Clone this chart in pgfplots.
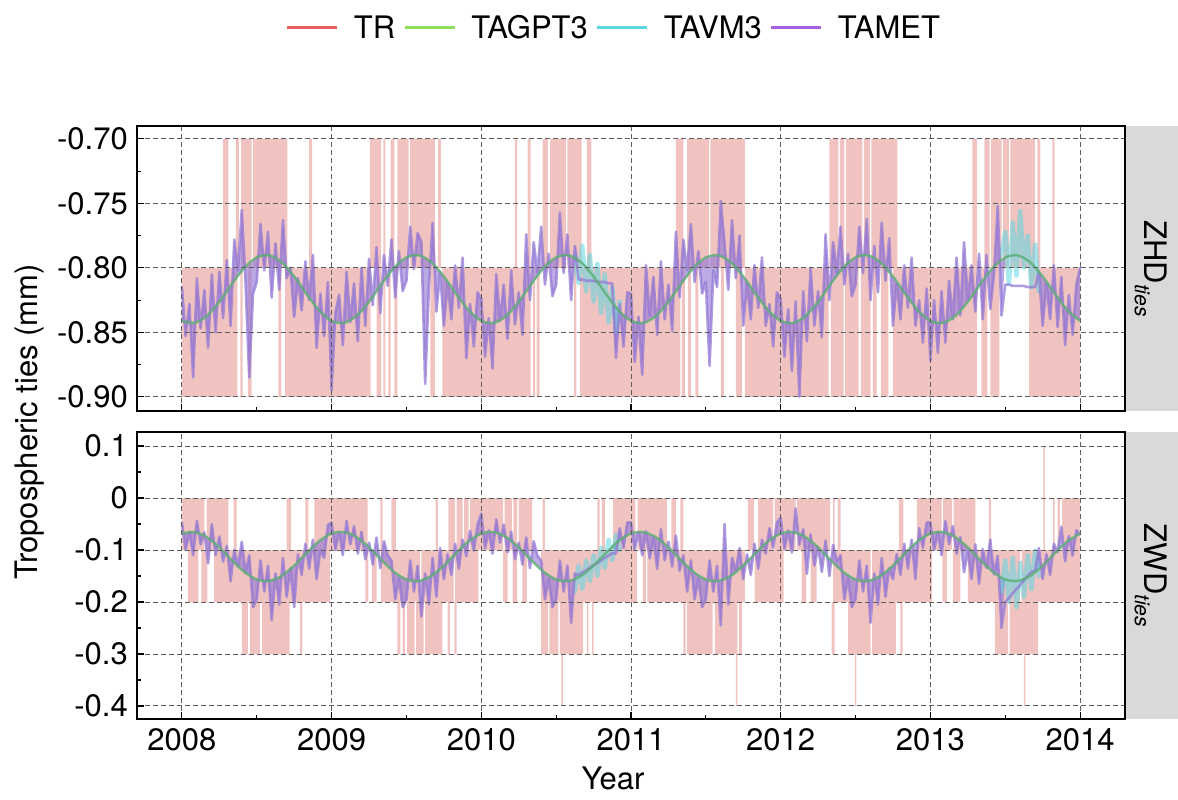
\documentclass[border=0pt]{standalone}
\usepackage{fontspec}
\setmainfont{TeX Gyre Heros}
\usepackage{pgfplots}
\usepackage{pgfplotstable}
\pgfplotsset{compat=1.18}

\definecolor{trred}{RGB}{230,97,92}
\definecolor{trfill}{RGB}{241,195,192}
\definecolor{gptgreen}{RGB}{140,222,90}
\definecolor{gptline}{RGB}{90,175,115}
\definecolor{vmcyan}{RGB}{95,215,225}
\definecolor{metpurple}{RGB}{165,95,225}
\definecolor{metline}{RGB}{145,118,212}
\definecolor{stripgray}{RGB}{217,217,217}
\definecolor{gridgray}{RGB}{95,95,95}

\newcommand{\bigfont}{\fontsize{31}{36}\selectfont}

% ZHD TAMET (2008.000 .. 2014.000, step 1/40 yr)
\pgfplotstableread[row sep=\\]{
y\\
-0.815\\-0.853\\-0.828\\-0.885\\-0.808\\-0.847\\-0.817\\-0.862\\-0.805\\-0.850\\
-0.803\\-0.839\\-0.794\\-0.845\\-0.778\\-0.802\\-0.755\\-0.811\\-0.885\\-0.820\\
-0.811\\-0.766\\-0.802\\-0.772\\-0.823\\-0.781\\-0.817\\-0.763\\-0.808\\-0.800\\
-0.838\\-0.808\\-0.833\\-0.795\\-0.825\\-0.790\\-0.862\\-0.820\\-0.853\\-0.811\\
-0.895\\-0.835\\-0.821\\-0.860\\-0.803\\-0.842\\-0.812\\-0.857\\-0.800\\-0.845\\
-0.793\\-0.829\\-0.784\\-0.835\\-0.790\\-0.814\\-0.778\\-0.823\\-0.787\\-0.818\\
-0.810\\-0.768\\-0.801\\-0.773\\-0.780\\-0.890\\-0.815\\-0.765\\-0.834\\-0.803\\
-0.845\\-0.812\\-0.840\\-0.798\\-0.831\\-0.792\\-0.870\\-0.828\\-0.861\\-0.819\\
-0.824\\-0.869\\-0.839\\-0.878\\-0.805\\-0.841\\-0.813\\-0.855\\-0.802\\-0.844\\
-0.819\\-0.852\\-0.774\\-0.825\\-0.780\\-0.804\\-0.768\\-0.813\\-0.789\\-0.822\\
-0.813\\-0.757\\-0.804\\-0.774\\-0.825\\-0.783\\-0.809\\-0.809\\-0.810\\-0.810\\
-0.810\\-0.811\\-0.811\\-0.811\\-0.812\\-0.812\\-0.870\\-0.828\\-0.861\\-0.819\\
-0.820\\-0.873\\-0.838\\-0.883\\-0.798\\-0.837\\-0.807\\-0.852\\-0.795\\-0.840\\
-0.813\\-0.849\\-0.772\\-0.823\\-0.778\\-0.802\\-0.766\\-0.811\\-0.787\\-0.820\\
-0.811\\-0.876\\-0.802\\-0.815\\-0.748\\-0.781\\-0.817\\-0.763\\-0.808\\-0.775\\
-0.845\\-0.812\\-0.840\\-0.798\\-0.831\\-0.792\\-0.845\\-0.828\\-0.861\\-0.819\\
-0.824\\-0.869\\-0.832\\-0.880\\-0.826\\-0.900\\-0.818\\-0.857\\-0.800\\-0.845\\
-0.818\\-0.854\\-0.774\\-0.825\\-0.780\\-0.804\\-0.768\\-0.813\\-0.789\\-0.822\\
-0.813\\-0.768\\-0.804\\-0.762\\-0.825\\-0.783\\-0.819\\-0.765\\-0.810\\-0.777\\
-0.845\\-0.812\\-0.840\\-0.798\\-0.831\\-0.792\\-0.845\\-0.825\\-0.858\\-0.816\\
-0.872\\-0.825\\-0.866\\-0.818\\-0.858\\-0.810\\-0.840\\-0.792\\-0.837\\-0.780\\
-0.825\\-0.798\\-0.834\\-0.789\\-0.840\\-0.790\\-0.832\\-0.805\\-0.752\\-0.837\\
-0.813\\-0.813\\-0.814\\-0.814\\-0.814\\-0.814\\-0.815\\-0.815\\-0.815\\-0.803\\
-0.845\\-0.812\\-0.840\\-0.798\\-0.846\\-0.807\\-0.860\\-0.821\\-0.852\\-0.813\\
-0.800\\
}\zhdmet

% ZHD TAMET spread outline: TAMET (TAGPT3 where TAMET is missing), then TAGPT3 back from 2014 to 2008
\pgfplotstableread[row sep=\\]{
y\\
-0.815\\-0.853\\-0.828\\-0.885\\-0.808\\-0.847\\-0.817\\-0.862\\-0.805\\-0.850\\
-0.803\\-0.839\\-0.794\\-0.845\\-0.778\\-0.802\\-0.755\\-0.811\\-0.885\\-0.820\\
-0.811\\-0.766\\-0.802\\-0.772\\-0.823\\-0.781\\-0.817\\-0.763\\-0.808\\-0.800\\
-0.838\\-0.808\\-0.833\\-0.795\\-0.825\\-0.790\\-0.862\\-0.820\\-0.853\\-0.811\\
-0.895\\-0.835\\-0.821\\-0.860\\-0.803\\-0.842\\-0.812\\-0.857\\-0.800\\-0.845\\
-0.793\\-0.829\\-0.784\\-0.835\\-0.790\\-0.814\\-0.778\\-0.823\\-0.787\\-0.818\\
-0.810\\-0.768\\-0.801\\-0.773\\-0.780\\-0.890\\-0.815\\-0.765\\-0.834\\-0.803\\
-0.845\\-0.812\\-0.840\\-0.798\\-0.831\\-0.792\\-0.870\\-0.828\\-0.861\\-0.819\\
-0.824\\-0.869\\-0.839\\-0.878\\-0.805\\-0.841\\-0.813\\-0.855\\-0.802\\-0.844\\
-0.819\\-0.852\\-0.774\\-0.825\\-0.780\\-0.804\\-0.768\\-0.813\\-0.789\\-0.822\\
-0.813\\-0.757\\-0.804\\-0.774\\-0.825\\-0.783\\-0.7941\\-0.7966\\-0.7996\\-0.8030\\
-0.8067\\-0.8107\\-0.8148\\-0.8190\\-0.8231\\-0.8270\\-0.870\\-0.828\\-0.861\\-0.819\\
-0.820\\-0.873\\-0.838\\-0.883\\-0.798\\-0.837\\-0.807\\-0.852\\-0.795\\-0.840\\
-0.813\\-0.849\\-0.772\\-0.823\\-0.778\\-0.802\\-0.766\\-0.811\\-0.787\\-0.820\\
-0.811\\-0.876\\-0.802\\-0.815\\-0.748\\-0.781\\-0.817\\-0.763\\-0.808\\-0.775\\
-0.845\\-0.812\\-0.840\\-0.798\\-0.831\\-0.792\\-0.845\\-0.828\\-0.861\\-0.819\\
-0.824\\-0.869\\-0.832\\-0.880\\-0.826\\-0.900\\-0.818\\-0.857\\-0.800\\-0.845\\
-0.818\\-0.854\\-0.774\\-0.825\\-0.780\\-0.804\\-0.768\\-0.813\\-0.789\\-0.822\\
-0.813\\-0.768\\-0.804\\-0.762\\-0.825\\-0.783\\-0.819\\-0.765\\-0.810\\-0.777\\
-0.845\\-0.812\\-0.840\\-0.798\\-0.831\\-0.792\\-0.845\\-0.825\\-0.858\\-0.816\\
-0.872\\-0.825\\-0.866\\-0.818\\-0.858\\-0.810\\-0.840\\-0.792\\-0.837\\-0.780\\
-0.825\\-0.798\\-0.834\\-0.789\\-0.840\\-0.790\\-0.832\\-0.805\\-0.752\\-0.837\\
-0.7919\\-0.7906\\-0.7901\\-0.7901\\-0.7908\\-0.7922\\-0.7941\\-0.7966\\-0.7996\\-0.803\\
-0.845\\-0.812\\-0.840\\-0.798\\-0.846\\-0.807\\-0.860\\-0.821\\-0.852\\-0.813\\
-0.800\\
-0.8411\\-0.8330\\-0.8204\\-0.8067\\-0.7957\\-0.7903\\-0.7919\\-0.8000\\-0.8126\\-0.8263\\-0.8373\\-0.8427\\
-0.8411\\-0.8330\\-0.8204\\-0.8067\\-0.7957\\-0.7903\\-0.7919\\-0.8000\\-0.8126\\-0.8263\\-0.8373\\-0.8427\\
-0.8411\\-0.8330\\-0.8204\\-0.8067\\-0.7957\\-0.7903\\-0.7919\\-0.8000\\-0.8126\\-0.8263\\-0.8373\\-0.8427\\
-0.8411\\-0.8330\\-0.8204\\-0.8067\\-0.7957\\-0.7903\\-0.7919\\-0.8000\\-0.8126\\-0.8263\\-0.8373\\-0.8427\\
-0.8411\\-0.8330\\-0.8204\\-0.8067\\-0.7957\\-0.7903\\-0.7919\\-0.8000\\-0.8126\\-0.8263\\-0.8373\\-0.8427\\
-0.8411\\-0.8330\\-0.8204\\-0.8067\\-0.7957\\-0.7903\\-0.7919\\-0.8000\\-0.8126\\-0.8263\\-0.8373\\-0.8427\\
-0.8411\\
}\zhdspread

% ZWD TAMET
\pgfplotstableread[row sep=\\]{
y\\
-0.047\\-0.100\\-0.065\\-0.110\\-0.044\\-0.089\\-0.066\\-0.126\\-0.050\\-0.110\\
-0.074\\-0.122\\-0.092\\-0.160\\-0.100\\-0.132\\-0.084\\-0.144\\-0.110\\-0.210\\
-0.195\\-0.120\\-0.180\\-0.130\\-0.235\\-0.145\\-0.205\\-0.115\\-0.190\\-0.135\\
-0.210\\-0.108\\-0.148\\-0.088\\-0.136\\-0.080\\-0.156\\-0.100\\-0.115\\-0.052\\
-0.047\\-0.100\\-0.065\\-0.110\\-0.044\\-0.089\\-0.054\\-0.107\\-0.065\\-0.118\\
-0.086\\-0.128\\-0.076\\-0.135\\-0.083\\-0.111\\-0.120\\-0.195\\-0.155\\-0.210\\
-0.195\\-0.120\\-0.180\\-0.130\\-0.228\\-0.145\\-0.205\\-0.115\\-0.190\\-0.096\\
-0.156\\-0.108\\-0.148\\-0.088\\-0.136\\-0.080\\-0.112\\-0.063\\-0.101\\-0.052\\
-0.030\\-0.097\\-0.062\\-0.107\\-0.041\\-0.086\\-0.051\\-0.104\\-0.065\\-0.118\\
-0.086\\-0.128\\-0.076\\-0.135\\-0.083\\-0.111\\-0.120\\-0.195\\-0.155\\-0.210\\
-0.195\\-0.120\\-0.180\\-0.130\\-0.240\\-0.145\\-0.148\\-0.143\\-0.139\\-0.134\\
-0.129\\-0.125\\-0.120\\-0.115\\-0.111\\-0.106\\-0.107\\-0.058\\-0.096\\-0.047\\
-0.047\\-0.100\\-0.065\\-0.110\\-0.064\\-0.116\\-0.076\\-0.136\\-0.060\\-0.120\\
-0.084\\-0.132\\-0.072\\-0.140\\-0.110\\-0.180\\-0.120\\-0.195\\-0.155\\-0.210\\
-0.195\\-0.120\\-0.180\\-0.130\\-0.245\\-0.050\\-0.205\\-0.115\\-0.140\\-0.096\\
-0.156\\-0.108\\-0.148\\-0.088\\-0.136\\-0.080\\-0.107\\-0.058\\-0.096\\-0.047\\
-0.038\\-0.098\\-0.062\\-0.105\\-0.020\\-0.090\\-0.060\\-0.146\\-0.070\\-0.130\\
-0.094\\-0.142\\-0.082\\-0.150\\-0.090\\-0.122\\-0.110\\-0.195\\-0.155\\-0.210\\
-0.195\\-0.120\\-0.180\\-0.130\\-0.240\\-0.145\\-0.205\\-0.115\\-0.190\\-0.135\\
-0.156\\-0.108\\-0.148\\-0.088\\-0.136\\-0.080\\-0.156\\-0.058\\-0.096\\-0.047\\
-0.047\\-0.100\\-0.065\\-0.110\\-0.044\\-0.089\\-0.054\\-0.107\\-0.075\\-0.143\\
-0.102\\-0.156\\-0.089\\-0.165\\-0.098\\-0.134\\-0.080\\-0.147\\-0.111\\-0.250\\
-0.200\\-0.192\\-0.183\\-0.175\\-0.167\\-0.158\\-0.150\\-0.142\\-0.140\\-0.096\\
-0.156\\-0.108\\-0.148\\-0.088\\-0.104\\-0.055\\-0.122\\-0.073\\-0.111\\-0.062\\
-0.070\\
}\zwdmet

% ZWD TAMET spread outline
\pgfplotstableread[row sep=\\]{
y\\
-0.047\\-0.100\\-0.065\\-0.110\\-0.044\\-0.089\\-0.066\\-0.126\\-0.050\\-0.110\\
-0.074\\-0.122\\-0.092\\-0.160\\-0.100\\-0.132\\-0.084\\-0.144\\-0.110\\-0.210\\
-0.195\\-0.120\\-0.180\\-0.130\\-0.235\\-0.145\\-0.205\\-0.115\\-0.190\\-0.135\\
-0.210\\-0.108\\-0.148\\-0.088\\-0.136\\-0.080\\-0.156\\-0.100\\-0.115\\-0.052\\
-0.047\\-0.100\\-0.065\\-0.110\\-0.044\\-0.089\\-0.054\\-0.107\\-0.065\\-0.118\\
-0.086\\-0.128\\-0.076\\-0.135\\-0.083\\-0.111\\-0.120\\-0.195\\-0.155\\-0.210\\
-0.195\\-0.120\\-0.180\\-0.130\\-0.228\\-0.145\\-0.205\\-0.115\\-0.190\\-0.096\\
-0.156\\-0.108\\-0.148\\-0.088\\-0.136\\-0.080\\-0.112\\-0.063\\-0.101\\-0.052\\
-0.030\\-0.097\\-0.062\\-0.107\\-0.041\\-0.086\\-0.051\\-0.104\\-0.065\\-0.118\\
-0.086\\-0.128\\-0.076\\-0.135\\-0.083\\-0.111\\-0.120\\-0.195\\-0.155\\-0.210\\
-0.195\\-0.120\\-0.180\\-0.130\\-0.240\\-0.145\\-0.1526\\-0.1481\\-0.1428\\-0.1367\\
-0.1300\\-0.1229\\-0.1155\\-0.1080\\-0.1007\\-0.0936\\-0.107\\-0.058\\-0.096\\-0.047\\
-0.047\\-0.100\\-0.065\\-0.110\\-0.064\\-0.116\\-0.076\\-0.136\\-0.060\\-0.120\\
-0.084\\-0.132\\-0.072\\-0.140\\-0.110\\-0.180\\-0.120\\-0.195\\-0.155\\-0.210\\
-0.195\\-0.120\\-0.180\\-0.130\\-0.245\\-0.050\\-0.205\\-0.115\\-0.140\\-0.096\\
-0.156\\-0.108\\-0.148\\-0.088\\-0.136\\-0.080\\-0.107\\-0.058\\-0.096\\-0.047\\
-0.038\\-0.098\\-0.062\\-0.105\\-0.020\\-0.090\\-0.060\\-0.146\\-0.070\\-0.130\\
-0.094\\-0.142\\-0.082\\-0.150\\-0.090\\-0.122\\-0.110\\-0.195\\-0.155\\-0.210\\
-0.195\\-0.120\\-0.180\\-0.130\\-0.240\\-0.145\\-0.205\\-0.115\\-0.190\\-0.135\\
-0.156\\-0.108\\-0.148\\-0.088\\-0.136\\-0.080\\-0.156\\-0.058\\-0.096\\-0.047\\
-0.047\\-0.100\\-0.065\\-0.110\\-0.044\\-0.089\\-0.054\\-0.107\\-0.075\\-0.143\\
-0.102\\-0.156\\-0.089\\-0.165\\-0.098\\-0.134\\-0.080\\-0.147\\-0.111\\-0.250\\
-0.1567\\-0.1589\\-0.1599\\-0.1598\\-0.1585\\-0.1561\\-0.1526\\-0.1481\\-0.140\\-0.096\\
-0.156\\-0.108\\-0.148\\-0.088\\-0.104\\-0.055\\-0.122\\-0.073\\-0.111\\-0.062\\
-0.070\\
-0.0683\\-0.0830\\-0.1056\\-0.1300\\-0.1497\\-0.1595\\-0.1567\\-0.1420\\-0.1194\\-0.0950\\-0.0753\\-0.0655\\
-0.0683\\-0.0830\\-0.1056\\-0.1300\\-0.1497\\-0.1595\\-0.1567\\-0.1420\\-0.1194\\-0.0950\\-0.0753\\-0.0655\\
-0.0683\\-0.0830\\-0.1056\\-0.1300\\-0.1497\\-0.1595\\-0.1567\\-0.1420\\-0.1194\\-0.0950\\-0.0753\\-0.0655\\
-0.0683\\-0.0830\\-0.1056\\-0.1300\\-0.1497\\-0.1595\\-0.1567\\-0.1420\\-0.1194\\-0.0950\\-0.0753\\-0.0655\\
-0.0683\\-0.0830\\-0.1056\\-0.1300\\-0.1497\\-0.1595\\-0.1567\\-0.1420\\-0.1194\\-0.0950\\-0.0753\\-0.0655\\
-0.0683\\-0.0830\\-0.1056\\-0.1300\\-0.1497\\-0.1595\\-0.1567\\-0.1420\\-0.1194\\-0.0950\\-0.0753\\-0.0655\\
-0.0683\\
}\zwdspread

% TAGPT3, monthly
\pgfplotstableread[row sep=\\]{
y\\
-0.8411\\-0.8427\\-0.8373\\-0.8263\\-0.8126\\-0.8000\\-0.7919\\-0.7903\\-0.7957\\-0.8067\\-0.8204\\-0.8330\\
-0.8411\\-0.8427\\-0.8373\\-0.8263\\-0.8126\\-0.8000\\-0.7919\\-0.7903\\-0.7957\\-0.8067\\-0.8204\\-0.8330\\
-0.8411\\-0.8427\\-0.8373\\-0.8263\\-0.8126\\-0.8000\\-0.7919\\-0.7903\\-0.7957\\-0.8067\\-0.8204\\-0.8330\\
-0.8411\\-0.8427\\-0.8373\\-0.8263\\-0.8126\\-0.8000\\-0.7919\\-0.7903\\-0.7957\\-0.8067\\-0.8204\\-0.8330\\
-0.8411\\-0.8427\\-0.8373\\-0.8263\\-0.8126\\-0.8000\\-0.7919\\-0.7903\\-0.7957\\-0.8067\\-0.8204\\-0.8330\\
-0.8411\\-0.8427\\-0.8373\\-0.8263\\-0.8126\\-0.8000\\-0.7919\\-0.7903\\-0.7957\\-0.8067\\-0.8204\\-0.8330\\
-0.8411\\
}\zhdgpt
\pgfplotstableread[row sep=\\]{
y\\
-0.0683\\-0.0655\\-0.0753\\-0.0950\\-0.1194\\-0.1420\\-0.1567\\-0.1595\\-0.1497\\-0.1300\\-0.1056\\-0.0830\\
-0.0683\\-0.0655\\-0.0753\\-0.0950\\-0.1194\\-0.1420\\-0.1567\\-0.1595\\-0.1497\\-0.1300\\-0.1056\\-0.0830\\
-0.0683\\-0.0655\\-0.0753\\-0.0950\\-0.1194\\-0.1420\\-0.1567\\-0.1595\\-0.1497\\-0.1300\\-0.1056\\-0.0830\\
-0.0683\\-0.0655\\-0.0753\\-0.0950\\-0.1194\\-0.1420\\-0.1567\\-0.1595\\-0.1497\\-0.1300\\-0.1056\\-0.0830\\
-0.0683\\-0.0655\\-0.0753\\-0.0950\\-0.1194\\-0.1420\\-0.1567\\-0.1595\\-0.1497\\-0.1300\\-0.1056\\-0.0830\\
-0.0683\\-0.0655\\-0.0753\\-0.0950\\-0.1194\\-0.1420\\-0.1567\\-0.1595\\-0.1497\\-0.1300\\-0.1056\\-0.0830\\
-0.0683\\
}\zwdgpt

\pgfplotsset{
  panel/.style={
    scale only axis, width=988pt,
    xmin=2007.70, xmax=2014.30,
    axis on top,
    xtick={2008,2009,2010,2011,2012,2013,2014},
    minor x tick num=1, minor y tick num=1,
    tick align=inside, tick pos=left,
    major tick length=7pt, minor tick length=4pt,
    tick style={black, line width=1.1pt},
    grid=major,
    major grid style={gridgray, dash pattern=on 5pt off 3pt, line width=1pt},
    axis line style={line width=1.3pt},
    tick label style={font=\bigfont},
    yticklabel style={inner sep=0pt, xshift=-9pt},
    xticklabel style={inner sep=0pt, yshift=-9pt},
  },
  trband/.style={const plot, fill=trfill, draw=none, forget plot},
  metfill/.style={fill=metline, fill opacity=0.62, draw=none, forget plot},
  metstyle/.style={color=metline, opacity=0.72, line width=2.6pt, line join=round, line cap=round, forget plot},
  vmstyle/.style={color=vmcyan, opacity=0.55, line width=4.5pt, line join=round, line cap=round, forget plot},
  gptstyle/.style={color=gptline, opacity=0.8, line width=2.4pt, smooth, forget plot},
}

\begin{document}
\begin{tikzpicture}
\useasboundingbox (0,0) rectangle (1178pt,800pt);

% facet strips
\fill[stripgray] (1125pt,389pt) rectangle (1178pt,674pt);
\fill[stripgray] (1125pt,81pt) rectangle (1178pt,368pt);
\node[rotate=-90, font=\bigfont] at (1151pt,531.5pt) {ZHD\raisebox{-0.32em}{\fontsize{21}{24}\selectfont\itshape ties}};
\node[rotate=-90, font=\bigfont] at (1151pt,224.5pt) {ZWD\raisebox{-0.32em}{\fontsize{21}{24}\selectfont\itshape ties}};

% axis titles
\node[rotate=90, font=\bigfont] at (30pt,378pt) {Tropospheric ties (mm)};
\node[font=\bigfont] at (613pt,22pt) {Year};

% ---------------- ZHD panel ----------------
\begin{axis}[panel, at={(137pt,389pt)}, anchor=south west, height=285pt,
  ymin=-0.911, ymax=-0.690,
  ytick={-0.90,-0.85,-0.80,-0.75,-0.70},
  yticklabels={-0.90,-0.85,-0.80,-0.75,-0.70},
  xticklabels={},
  legend columns=4,
  legend style={at={(0.4818,1.344)}, anchor=center, draw=none, fill=none,
    font=\bigfont, nodes={inner sep=0pt},
    /tikz/every even column/.append style={column sep=8pt},
    /tikz/every odd column/.append style={column sep=15pt}},
  legend image code/.code={\draw[#1] (0pt,0pt) -- (50pt,0pt);},
]
\addlegendimage{trred, line width=3pt}\addlegendentry{TR}
\addlegendimage{gptgreen, line width=3pt}\addlegendentry{TAGPT3}
\addlegendimage{vmcyan, line width=3pt}\addlegendentry{TAVM3}
\addlegendimage{metpurple, line width=3pt}\addlegendentry{TAMET}

% TR, level band -0.9 / -0.8
\addplot[trband] coordinates {
(2008.000,-0.9)(2008.000,-0.8)(2008.370,-0.9)
(2008.390,-0.8)(2008.405,-0.9)(2008.440,-0.8)(2008.465,-0.9)
(2008.645,-0.8)(2008.665,-0.9)(2008.690,-0.8)(2009.260,-0.9)
(2009.300,-0.8)(2009.330,-0.9)(2009.345,-0.8)(2009.360,-0.9)
(2009.380,-0.8)(2009.395,-0.9)(2009.420,-0.8)(2009.440,-0.9)
(2009.660,-0.8)(2009.690,-0.9)(2009.740,-0.8)(2010.330,-0.9)
(2010.345,-0.8)(2010.360,-0.9)(2010.370,-0.8)(2010.390,-0.9)
(2010.620,-0.8)(2010.635,-0.9)(2010.660,-0.8)(2011.330,-0.9)
(2011.340,-0.8)(2011.360,-0.9)(2011.380,-0.8)(2011.400,-0.9)
(2011.430,-0.8)(2011.450,-0.9)(2011.600,-0.8)(2011.620,-0.9)
(2011.700,-0.8)(2011.740,-0.9)(2011.760,-0.8)(2012.320,-0.9)
(2012.335,-0.8)(2012.420,-0.9)(2012.430,-0.8)(2012.520,-0.9)
(2012.535,-0.8)(2012.600,-0.9)(2012.615,-0.8)(2012.640,-0.9)
(2012.670,-0.8)(2012.720,-0.9)(2012.750,-0.8)(2013.310,-0.9)
(2013.340,-0.8)(2013.380,-0.9)(2013.400,-0.8)(2013.460,-0.9)
(2013.660,-0.8)(2014.000,-0.9)
};
% TR, level band -0.8 / -0.7
\addplot[trband] coordinates {
(2008.275,-0.8)(2008.275,-0.7)(2008.310,-0.8)
(2008.360,-0.7)(2008.380,-0.8)(2008.395,-0.7)(2008.465,-0.8)
(2008.475,-0.7)(2008.705,-0.8)(2008.850,-0.7)(2008.870,-0.8)
(2009.255,-0.7)(2009.330,-0.8)(2009.345,-0.7)(2009.360,-0.8)
(2009.395,-0.7)(2009.420,-0.8)(2009.440,-0.7)(2009.515,-0.8)
(2009.525,-0.7)(2009.690,-0.8)(2009.710,-0.7)(2009.730,-0.8)
(2010.225,-0.7)(2010.240,-0.8)(2010.310,-0.7)(2010.330,-0.8)
(2010.410,-0.7)(2010.445,-0.8)(2010.460,-0.7)(2010.565,-0.8)
(2010.575,-0.7)(2010.670,-0.8)(2010.705,-0.7)(2010.735,-0.8)
(2011.300,-0.7)(2011.350,-0.8)(2011.375,-0.7)(2011.520,-0.8)
(2011.530,-0.7)(2011.760,-0.8)
(2012.325,-0.7)(2012.385,-0.8)(2012.395,-0.7)(2012.425,-0.8)
(2012.435,-0.7)(2012.545,-0.8)(2012.555,-0.7)(2012.595,-0.8)
(2012.605,-0.7)(2012.780,-0.8)
(2013.280,-0.7)(2013.310,-0.8)(2013.360,-0.7)(2013.395,-0.8)
(2013.405,-0.7)(2013.475,-0.8)(2013.485,-0.7)(2013.525,-0.8)
(2013.535,-0.7)(2013.700,-0.8)(2013.715,-0.7)(2013.735,-0.8)
(2013.815,-0.7)(2013.830,-0.8)
};

% TAMET spread (between TAMET and TAGPT3)
\addplot[metfill] table[x expr={\coordindex<241 ? 2008+\coordindex/40 : 2014-(\coordindex-241)/12}, y=y] {\zhdspread};
% TAVM3 (visible where TAMET is missing)
\addplot[vmstyle] coordinates {(2010.625,-0.790)(2010.650,-0.812)(2010.675,-0.783)(2010.700,-0.818)(2010.725,-0.790)(2010.750,-0.826)(2010.775,-0.797)(2010.800,-0.835)(2010.825,-0.805)(2010.850,-0.842)(2010.875,-0.815)(2010.900,-0.850)(2010.925,-0.826)};
\addplot[vmstyle] coordinates {(2013.475,-0.790)(2013.500,-0.772)(2013.525,-0.812)(2013.550,-0.765)(2013.575,-0.806)(2013.600,-0.756)(2013.625,-0.800)(2013.650,-0.775)(2013.675,-0.815)(2013.700,-0.782)(2013.725,-0.818)};
% TAMET
\addplot[metstyle] table[x expr=2008+\coordindex/40, y=y] {\zhdmet};
% TAGPT3
\addplot[gptstyle] table[x expr=2008+\coordindex/12, y=y] {\zhdgpt};
\end{axis}

% ---------------- ZWD panel ----------------
\begin{axis}[panel, at={(137pt,81pt)}, anchor=south west, height=287pt,
  ymin=-0.425, ymax=0.127,
  ytick={-0.4,-0.3,-0.2,-0.1,0,0.1},
  yticklabels={-0.4,-0.3,-0.2,-0.1,0,0.1},
  xticklabels={2008,2009,2010,2011,2012,2013,2014},
]
% TR, band 0 / -0.1
\addplot[trband] coordinates {
(2008.000,-0.1)(2008.000,0)(2008.150,-0.1)
(2008.165,0)(2008.310,-0.1)(2008.345,0)(2008.365,-0.1)
(2008.700,0)(2008.730,-0.1)(2008.825,0)(2008.845,-0.1)
(2008.885,0)(2009.240,-0.1)(2009.325,0)(2009.340,-0.1)
(2009.400,0)(2009.430,-0.1)(2009.695,0)(2009.710,-0.1)
(2009.780,0)(2009.825,-0.1)(2009.835,0)(2009.875,-0.1)
(2009.885,0)(2009.915,-0.1)(2009.925,0)(2010.145,-0.1)
(2010.155,0)(2010.205,-0.1)(2010.215,0)(2010.240,-0.1)
(2010.250,0)(2010.340,-0.1)(2010.410,0)(2010.425,-0.1)
(2010.775,0)(2010.790,-0.1)(2010.805,0)(2010.825,-0.1)
(2010.880,0)(2011.030,-0.1)(2011.045,0)(2011.240,-0.1)
(2011.270,0)(2011.300,-0.1)(2011.330,0)(2011.350,-0.1)
(2011.780,0)(2011.820,-0.1)(2011.850,0)(2011.950,-0.1)
(2011.960,0)(2012.100,-0.1)(2012.110,0)(2012.330,-0.1)
(2012.350,0)(2012.360,-0.1)(2012.380,0)(2012.400,-0.1)
(2012.790,0)(2012.820,-0.1)(2012.910,0)(2013.075,-0.1)
(2013.085,0)(2013.145,-0.1)(2013.155,0)(2013.300,-0.1)
(2013.390,0)(2013.405,-0.1)(2013.820,0)(2013.830,-0.1)
(2013.850,0)(2013.865,-0.1)(2013.880,0)(2014.000,-0.1)
};
% TR, band -0.1 / -0.2
\addplot[trband] coordinates {
(2008.040,-0.2)(2008.040,-0.1)(2008.110,-0.2)
(2008.130,-0.1)(2008.170,-0.2)(2008.215,-0.1)(2008.990,-0.2)
(2009.225,-0.1)(2009.245,-0.2)(2009.270,-0.1)(2009.300,-0.2)
(2009.330,-0.1)(2009.590,-0.2)(2009.600,-0.1)(2009.815,-0.2)
(2009.825,-0.1)(2009.980,-0.2)(2010.145,-0.1)(2010.175,-0.2)
(2010.210,-0.1)(2010.240,-0.2)(2010.275,-0.1)(2010.305,-0.2)
(2010.400,-0.1)(2011.040,-0.2)(2011.080,-0.1)(2011.100,-0.2)
(2011.110,-0.1)(2011.760,-0.2)(2011.825,-0.1)(2012.020,-0.2)
(2012.140,-0.1)(2012.170,-0.2)(2012.200,-0.1)(2012.240,-0.2)
(2012.350,-0.1)(2012.600,-0.2)(2012.610,-0.1)(2013.010,-0.2)
(2013.080,-0.1)(2013.110,-0.2)(2013.150,-0.1)(2013.200,-0.2)
(2013.250,-0.1)(2013.600,-0.2)(2013.610,-0.1)(2014.000,-0.2)
};
% TR, band -0.2 / -0.3
\addplot[trband] coordinates {
(2008.400,-0.3)(2008.400,-0.2)(2008.440,-0.3)
(2008.455,-0.2)(2008.520,-0.3)(2008.535,-0.2)(2008.720,-0.3)
(2008.790,-0.2)(2008.805,-0.3)(2009.440,-0.2)(2009.460,-0.3)
(2009.475,-0.2)(2009.490,-0.3)(2009.505,-0.2)(2009.555,-0.3)
(2009.565,-0.2)(2009.615,-0.3)(2009.625,-0.2)(2009.740,-0.3)
(2009.775,-0.2)(2009.790,-0.3)(2009.820,-0.2)(2009.835,-0.3)
(2010.400,-0.2)(2010.445,-0.3)(2010.455,-0.2)(2010.515,-0.3)
(2010.525,-0.2)(2010.680,-0.3)(2010.705,-0.2)(2010.715,-0.3)
(2010.740,-0.2)(2010.750,-0.3)(2011.350,-0.2)(2011.365,-0.3)
(2011.375,-0.2)(2011.545,-0.3)(2011.560,-0.2)(2011.710,-0.3)
(2011.720,-0.2)(2011.740,-0.3)(2012.340,-0.2)(2012.360,-0.3)
(2012.450,-0.2)(2012.600,-0.3)(2012.610,-0.2)(2012.770,-0.3)
(2012.800,-0.2)(2012.815,-0.3)(2013.430,-0.2)(2013.520,-0.3)
(2013.530,-0.2)(2013.720,-0.3)
};
% TR, single values at -0.4
\addplot[trband] coordinates {
(2010.535,-0.4)(2010.535,-0.3)(2010.545,-0.4)
(2011.700,-0.3)(2011.710,-0.4)(2012.495,-0.3)(2012.505,-0.4)
(2013.625,-0.3)(2013.635,-0.4)
};
% TR, single value at 0.1
\addplot[trband] coordinates {(2013.755,-0.1)(2013.755,0.1)(2013.765,-0.1)};

% TAMET spread
\addplot[metfill] table[x expr={\coordindex<241 ? 2008+\coordindex/40 : 2014-(\coordindex-241)/12}, y=y] {\zwdspread};
% TAVM3
\addplot[vmstyle] coordinates {(2010.625,-0.180)(2010.650,-0.130)(2010.675,-0.175)(2010.700,-0.120)(2010.725,-0.160)(2010.750,-0.110)(2010.775,-0.150)(2010.800,-0.095)(2010.825,-0.135)(2010.850,-0.080)(2010.875,-0.120)(2010.900,-0.070)(2010.925,-0.100)};
\addplot[vmstyle] coordinates {(2013.475,-0.180)(2013.500,-0.120)(2013.525,-0.200)(2013.550,-0.115)(2013.575,-0.210)(2013.600,-0.125)(2013.625,-0.190)(2013.650,-0.110)(2013.675,-0.175)(2013.700,-0.100)(2013.725,-0.150)};
% TAMET
\addplot[metstyle] table[x expr=2008+\coordindex/40, y=y] {\zwdmet};
% TAGPT3
\addplot[gptstyle] table[x expr=2008+\coordindex/12, y=y] {\zwdgpt};
\end{axis}
\end{tikzpicture}
\end{document}
